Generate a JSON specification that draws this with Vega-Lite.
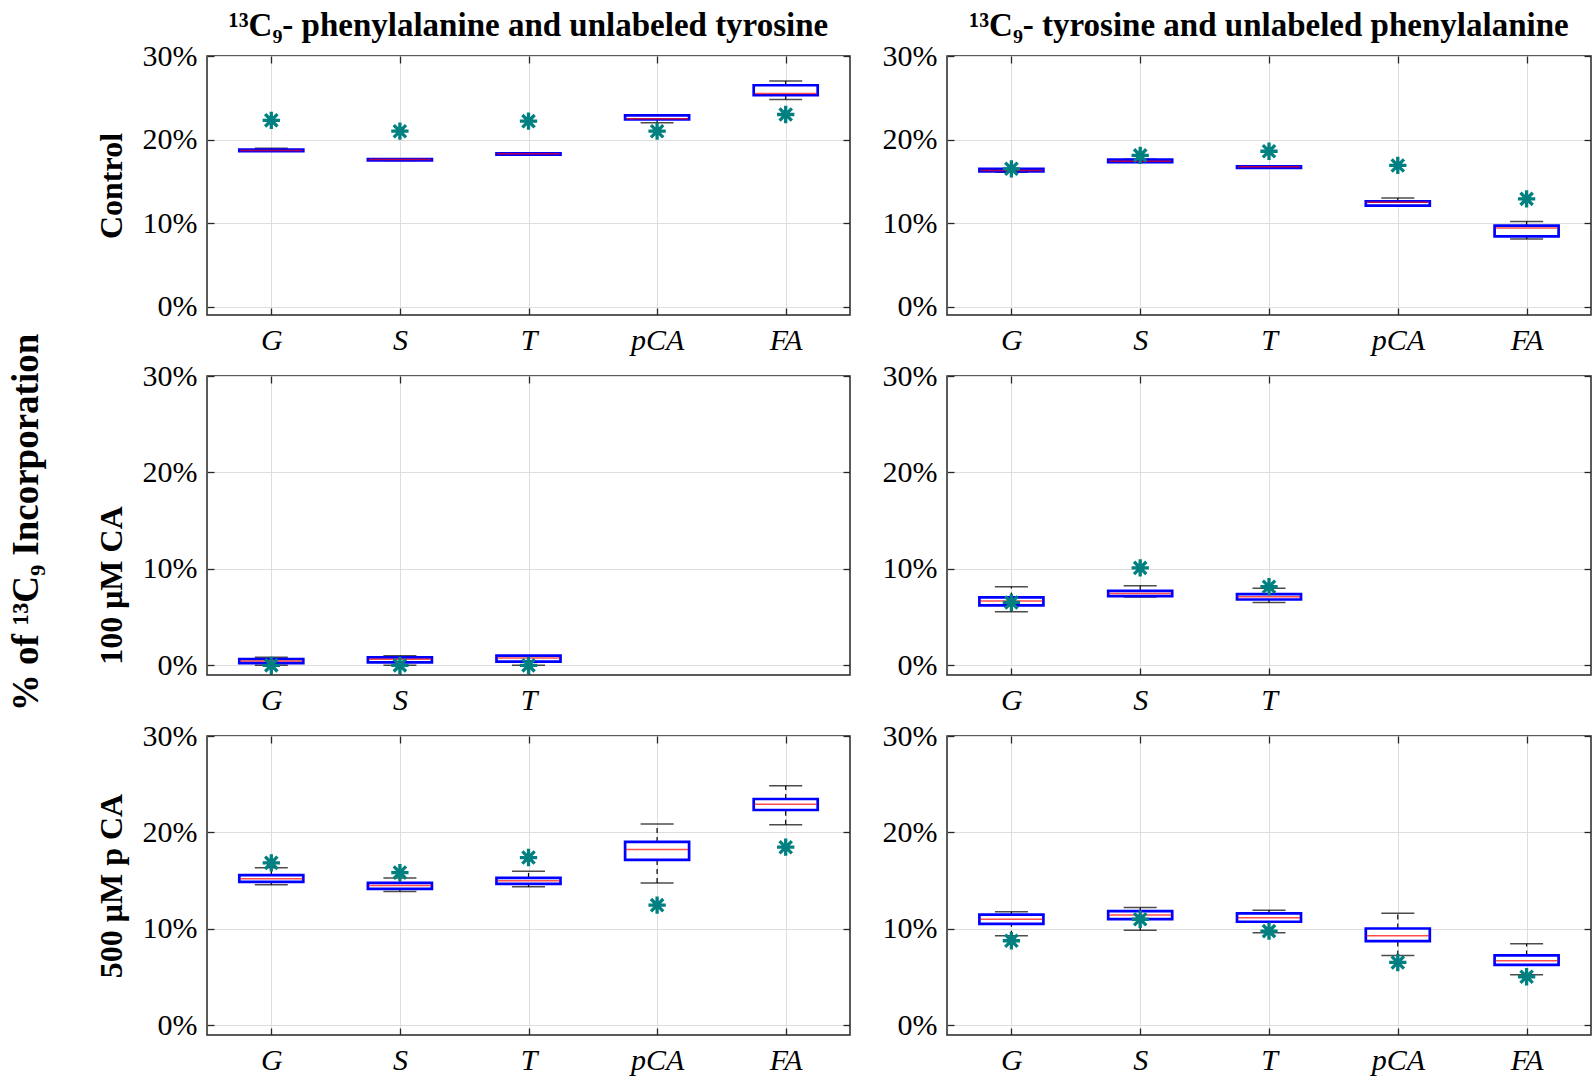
{
  "$schema": "https://vega.github.io/schema/vega-lite/v6.json",
  "background": "white",
  "padding": {"left": 8, "top": 9, "right": 0, "bottom": 0},
  "config": {
    "font": "Liberation Serif",
    "view": {"stroke": "#262626", "strokeWidth": 1.5},
    "axis": {
      "grid": true, "gridColor": "#dedede", "gridWidth": 1,
      "domain": false, "ticks": true, "tickColor": "#262626", "tickWidth": 1.3, "tickSize": -7,
      "labelFont": "Liberation Serif", "labelColor": "#000000",
      "titleFont": "Liberation Serif", "titleColor": "#000000"
    },
    "axisX": {"labelFontSize": 30, "labelFontStyle": "italic", "labelPadding": 17, "labelAngle": 0},
    "axisY": {"labelFontSize": 30, "labelPadding": 17, "titleFontSize": 32, "titleFontWeight": "bold", "titlePadding": 14},
    "title": {"font": "Liberation Serif", "color": "#000000", "fontWeight": "bold"}
  },
  "title": {"text": "% of ¹³C₉ Incorporation", "orient": "left", "anchor": "middle", "fontSize": 37, "fontWeight": "bold", "offset": 48, "dx": 20},
  "datasets": {
    "d": [
      {"row": "ctrl", "col": "Phe", "cat": "G", "lo": 18.6, "q1": 18.6, "med": 18.7, "q3": 18.8, "hi": 18.95, "star": 22.3},
      {"row": "ctrl", "col": "Phe", "cat": "S", "lo": 17.5, "q1": 17.5, "med": 17.6, "q3": 17.65, "hi": 17.7, "star": 21.0},
      {"row": "ctrl", "col": "Phe", "cat": "T", "lo": 18.2, "q1": 18.2, "med": 18.3, "q3": 18.35, "hi": 18.4, "star": 22.2},
      {"row": "ctrl", "col": "Phe", "cat": "pCA", "lo": 22.0, "q1": 22.4, "med": 22.5, "q3": 22.9, "hi": 22.9, "star": 21.0},
      {"row": "ctrl", "col": "Phe", "cat": "FA", "lo": 24.8, "q1": 25.3, "med": 25.5, "q3": 26.5, "hi": 27.0, "star": 23.0},
      {"row": "ctrl", "col": "Tyr", "cat": "G", "lo": 16.1, "q1": 16.2, "med": 16.3, "q3": 16.5, "hi": 16.5, "star": 16.5},
      {"row": "ctrl", "col": "Tyr", "cat": "S", "lo": 17.3, "q1": 17.3, "med": 17.4, "q3": 17.6, "hi": 17.65, "star": 18.1},
      {"row": "ctrl", "col": "Tyr", "cat": "T", "lo": 16.6, "q1": 16.6, "med": 16.75, "q3": 16.8, "hi": 16.8, "star": 18.6},
      {"row": "ctrl", "col": "Tyr", "cat": "pCA", "lo": 12.1, "q1": 12.1, "med": 12.5, "q3": 12.6, "hi": 13.0, "star": 16.9},
      {"row": "ctrl", "col": "Tyr", "cat": "FA", "lo": 8.1, "q1": 8.4, "med": 9.4, "q3": 9.7, "hi": 10.2, "star": 12.9},
      {"row": "ca", "col": "Phe", "cat": "G", "lo": 0.0, "q1": 0.24, "med": 0.45, "q3": 0.66, "hi": 0.83, "star": 0.0},
      {"row": "ca", "col": "Phe", "cat": "S", "lo": 0.0, "q1": 0.31, "med": 0.62, "q3": 0.83, "hi": 1.0, "star": 0.0},
      {"row": "ca", "col": "Phe", "cat": "T", "lo": 0.0, "q1": 0.38, "med": 0.76, "q3": 1.0, "hi": 1.0, "star": 0.0},
      {"row": "ca", "col": "Tyr", "cat": "G", "lo": 5.56, "q1": 6.21, "med": 6.66, "q3": 7.04, "hi": 8.15, "star": 6.52},
      {"row": "ca", "col": "Tyr", "cat": "S", "lo": 7.08, "q1": 7.18, "med": 7.46, "q3": 7.73, "hi": 8.25, "star": 10.1},
      {"row": "ca", "col": "Tyr", "cat": "T", "lo": 6.52, "q1": 6.83, "med": 7.11, "q3": 7.39, "hi": 8.0, "star": 8.15},
      {"row": "pca", "col": "Phe", "cat": "G", "lo": 14.57, "q1": 14.88, "med": 15.19, "q3": 15.57, "hi": 16.33, "star": 16.85},
      {"row": "pca", "col": "Phe", "cat": "S", "lo": 13.88, "q1": 14.15, "med": 14.5, "q3": 14.77, "hi": 15.29, "star": 15.84},
      {"row": "pca", "col": "Phe", "cat": "T", "lo": 14.36, "q1": 14.67, "med": 14.98, "q3": 15.29, "hi": 15.98, "star": 17.4},
      {"row": "pca", "col": "Phe", "cat": "pCA", "lo": 14.77, "q1": 17.16, "med": 18.23, "q3": 19.02, "hi": 20.88, "star": 12.46},
      {"row": "pca", "col": "Phe", "cat": "FA", "lo": 20.81, "q1": 22.33, "med": 22.92, "q3": 23.47, "hi": 24.85, "star": 18.47},
      {"row": "pca", "col": "Tyr", "cat": "G", "lo": 9.29, "q1": 10.53, "med": 11.01, "q3": 11.49, "hi": 11.77, "star": 8.77},
      {"row": "pca", "col": "Tyr", "cat": "S", "lo": 9.87, "q1": 11.01, "med": 11.43, "q3": 11.84, "hi": 12.22, "star": 11.0},
      {"row": "pca", "col": "Tyr", "cat": "T", "lo": 9.6, "q1": 10.74, "med": 11.15, "q3": 11.6, "hi": 11.94, "star": 9.77},
      {"row": "pca", "col": "Tyr", "cat": "pCA", "lo": 7.25, "q1": 8.73, "med": 9.29, "q3": 10.04, "hi": 11.63, "star": 6.52},
      {"row": "pca", "col": "Tyr", "cat": "FA", "lo": 5.25, "q1": 6.28, "med": 6.7, "q3": 7.25, "hi": 8.46, "star": 5.04}
    ]
  },
  "bounds": "flush",
  "columns": 2,
  "spacing": {"row": 61, "column": 97},
  "concat": [
    {
      "width": 643, "height": 259,
      "title": {"text": "¹³C₉- phenylalanine and unlabeled tyrosine", "fontSize": 33, "offset": -2},
      "data": {"name": "d"},
      "transform": [{"filter": "datum.row === 'ctrl' && datum.col === 'Phe'"}],
      "resolve": {"axis": {"x": "independent", "y": "independent"}},
      "layer": [
        {"mark": {"type": "rule", "color": "black", "strokeDash": [5, 4], "strokeWidth": 1.2},
         "encoding": {
           "x": {"field": "cat", "type": "nominal", "scale": {"type": "point", "domain": ["G", "S", "T", "pCA", "FA"], "padding": 0.5}, "axis": {"orient": "bottom", "title": null}},
           "y": {"field": "lo", "type": "quantitative", "scale": {"domain": [-1, 30], "nice": false, "zero": false}, "axis": {"orient": "left", "values": [0, 10, 20, 30], "labelExpr": "datum.value + '%'", "title": "Control"}},
           "y2": {"field": "q1"}}},
        {"mark": {"type": "rule", "color": "black", "strokeDash": [5, 4], "strokeWidth": 1.2},
         "encoding": {
           "x": {"field": "cat", "type": "nominal", "axis": {"orient": "top", "title": null, "labels": false, "grid": false}},
           "y": {"field": "q3", "type": "quantitative", "axis": {"orient": "right", "values": [0, 10, 20, 30], "labels": false, "grid": false, "title": null}},
           "y2": {"field": "hi"}}},
        {"mark": {"type": "tick", "color": "black", "size": 33, "thickness": 1.5},
         "encoding": {"x": {"field": "cat", "type": "nominal", "axis": null}, "y": {"field": "lo", "type": "quantitative", "axis": null}}},
        {"mark": {"type": "tick", "color": "black", "size": 33, "thickness": 1.5},
         "encoding": {"x": {"field": "cat", "type": "nominal", "axis": null}, "y": {"field": "hi", "type": "quantitative", "axis": null}}},
        {"mark": {"type": "bar", "width": 64, "fill": "white", "stroke": "#0000FF", "strokeWidth": 2.7},
         "encoding": {"x": {"field": "cat", "type": "nominal", "axis": null}, "y": {"field": "q1", "type": "quantitative", "axis": null}, "y2": {"field": "q3"}}},
        {"mark": {"type": "tick", "color": "#FF0000", "size": 62, "thickness": 1.5},
         "encoding": {"x": {"field": "cat", "type": "nominal", "axis": null}, "y": {"field": "med", "type": "quantitative", "axis": null}}},
        {"mark": {"type": "point", "shape": "M0,-1L0,1M-1,0L1,0M-0.71,-0.71L0.71,0.71M-0.71,0.71L0.71,-0.71", "filled": false, "stroke": "#008080", "strokeWidth": 3.3, "size": 300, "opacity": 1},
         "encoding": {"x": {"field": "cat", "type": "nominal", "axis": null}, "y": {"field": "star", "type": "quantitative", "axis": null}}}
      ]
    },
    {
      "width": 644, "height": 259,
      "title": {"text": "¹³C₉- tyrosine and unlabeled phenylalanine", "fontSize": 33, "offset": -2},
      "data": {"name": "d"},
      "transform": [{"filter": "datum.row === 'ctrl' && datum.col === 'Tyr'"}],
      "resolve": {"axis": {"x": "independent", "y": "independent"}},
      "layer": [
        {"mark": {"type": "rule", "color": "black", "strokeDash": [5, 4], "strokeWidth": 1.2},
         "encoding": {
           "x": {"field": "cat", "type": "nominal", "scale": {"type": "point", "domain": ["G", "S", "T", "pCA", "FA"], "padding": 0.5}, "axis": {"orient": "bottom", "title": null}},
           "y": {"field": "lo", "type": "quantitative", "scale": {"domain": [-1, 30], "nice": false, "zero": false}, "axis": {"orient": "left", "values": [0, 10, 20, 30], "labelExpr": "datum.value + '%'", "title": null}},
           "y2": {"field": "q1"}}},
        {"mark": {"type": "rule", "color": "black", "strokeDash": [5, 4], "strokeWidth": 1.2},
         "encoding": {
           "x": {"field": "cat", "type": "nominal", "axis": {"orient": "top", "title": null, "labels": false, "grid": false}},
           "y": {"field": "q3", "type": "quantitative", "axis": {"orient": "right", "values": [0, 10, 20, 30], "labels": false, "grid": false, "title": null}},
           "y2": {"field": "hi"}}},
        {"mark": {"type": "tick", "color": "black", "size": 33, "thickness": 1.5},
         "encoding": {"x": {"field": "cat", "type": "nominal", "axis": null}, "y": {"field": "lo", "type": "quantitative", "axis": null}}},
        {"mark": {"type": "tick", "color": "black", "size": 33, "thickness": 1.5},
         "encoding": {"x": {"field": "cat", "type": "nominal", "axis": null}, "y": {"field": "hi", "type": "quantitative", "axis": null}}},
        {"mark": {"type": "bar", "width": 64, "fill": "white", "stroke": "#0000FF", "strokeWidth": 2.7},
         "encoding": {"x": {"field": "cat", "type": "nominal", "axis": null}, "y": {"field": "q1", "type": "quantitative", "axis": null}, "y2": {"field": "q3"}}},
        {"mark": {"type": "tick", "color": "#FF0000", "size": 62, "thickness": 1.5},
         "encoding": {"x": {"field": "cat", "type": "nominal", "axis": null}, "y": {"field": "med", "type": "quantitative", "axis": null}}},
        {"mark": {"type": "point", "shape": "M0,-1L0,1M-1,0L1,0M-0.71,-0.71L0.71,0.71M-0.71,0.71L0.71,-0.71", "filled": false, "stroke": "#008080", "strokeWidth": 3.3, "size": 300, "opacity": 1},
         "encoding": {"x": {"field": "cat", "type": "nominal", "axis": null}, "y": {"field": "star", "type": "quantitative", "axis": null}}}
      ]
    },
    {
      "width": 643, "height": 299,
      "data": {"name": "d"},
      "transform": [{"filter": "datum.row === 'ca' && datum.col === 'Phe'"}],
      "resolve": {"axis": {"x": "independent", "y": "independent"}},
      "layer": [
        {"mark": {"type": "rule", "color": "black", "strokeDash": [5, 4], "strokeWidth": 1.2},
         "encoding": {
           "x": {"field": "cat", "type": "nominal", "scale": {"type": "point", "domain": ["G", "S", "T", "pCA", "FA"], "padding": 0.5}, "axis": {"orient": "bottom", "title": null, "values": ["G", "S", "T"]}},
           "y": {"field": "lo", "type": "quantitative", "scale": {"domain": [-1, 30], "nice": false, "zero": false}, "axis": {"orient": "left", "values": [0, 10, 20, 30], "labelExpr": "datum.value + '%'", "title": "100 μM CA", "titleY": 209}},
           "y2": {"field": "q1"}}},
        {"mark": {"type": "rule", "color": "black", "strokeDash": [5, 4], "strokeWidth": 1.2},
         "encoding": {
           "x": {"field": "cat", "type": "nominal", "axis": {"orient": "top", "title": null, "labels": false, "grid": false, "values": ["G", "S", "T"]}},
           "y": {"field": "q3", "type": "quantitative", "axis": {"orient": "right", "values": [0, 10, 20, 30], "labels": false, "grid": false, "title": null}},
           "y2": {"field": "hi"}}},
        {"mark": {"type": "tick", "color": "black", "size": 33, "thickness": 1.5},
         "encoding": {"x": {"field": "cat", "type": "nominal", "axis": null}, "y": {"field": "lo", "type": "quantitative", "axis": null}}},
        {"mark": {"type": "tick", "color": "black", "size": 33, "thickness": 1.5},
         "encoding": {"x": {"field": "cat", "type": "nominal", "axis": null}, "y": {"field": "hi", "type": "quantitative", "axis": null}}},
        {"mark": {"type": "bar", "width": 64, "fill": "white", "stroke": "#0000FF", "strokeWidth": 2.7},
         "encoding": {"x": {"field": "cat", "type": "nominal", "axis": null}, "y": {"field": "q1", "type": "quantitative", "axis": null}, "y2": {"field": "q3"}}},
        {"mark": {"type": "tick", "color": "#FF0000", "size": 62, "thickness": 1.5},
         "encoding": {"x": {"field": "cat", "type": "nominal", "axis": null}, "y": {"field": "med", "type": "quantitative", "axis": null}}},
        {"mark": {"type": "point", "shape": "M0,-1L0,1M-1,0L1,0M-0.71,-0.71L0.71,0.71M-0.71,0.71L0.71,-0.71", "filled": false, "stroke": "#008080", "strokeWidth": 3.3, "size": 300, "opacity": 1},
         "encoding": {"x": {"field": "cat", "type": "nominal", "axis": null}, "y": {"field": "star", "type": "quantitative", "axis": null}}}
      ]
    },
    {
      "width": 644, "height": 299,
      "data": {"name": "d"},
      "transform": [{"filter": "datum.row === 'ca' && datum.col === 'Tyr'"}],
      "resolve": {"axis": {"x": "independent", "y": "independent"}},
      "layer": [
        {"mark": {"type": "rule", "color": "black", "strokeDash": [5, 4], "strokeWidth": 1.2},
         "encoding": {
           "x": {"field": "cat", "type": "nominal", "scale": {"type": "point", "domain": ["G", "S", "T", "pCA", "FA"], "padding": 0.5}, "axis": {"orient": "bottom", "title": null, "values": ["G", "S", "T"]}},
           "y": {"field": "lo", "type": "quantitative", "scale": {"domain": [-1, 30], "nice": false, "zero": false}, "axis": {"orient": "left", "values": [0, 10, 20, 30], "labelExpr": "datum.value + '%'", "title": null}},
           "y2": {"field": "q1"}}},
        {"mark": {"type": "rule", "color": "black", "strokeDash": [5, 4], "strokeWidth": 1.2},
         "encoding": {
           "x": {"field": "cat", "type": "nominal", "axis": {"orient": "top", "title": null, "labels": false, "grid": false, "values": ["G", "S", "T"]}},
           "y": {"field": "q3", "type": "quantitative", "axis": {"orient": "right", "values": [0, 10, 20, 30], "labels": false, "grid": false, "title": null}},
           "y2": {"field": "hi"}}},
        {"mark": {"type": "tick", "color": "black", "size": 33, "thickness": 1.5},
         "encoding": {"x": {"field": "cat", "type": "nominal", "axis": null}, "y": {"field": "lo", "type": "quantitative", "axis": null}}},
        {"mark": {"type": "tick", "color": "black", "size": 33, "thickness": 1.5},
         "encoding": {"x": {"field": "cat", "type": "nominal", "axis": null}, "y": {"field": "hi", "type": "quantitative", "axis": null}}},
        {"mark": {"type": "bar", "width": 64, "fill": "white", "stroke": "#0000FF", "strokeWidth": 2.7},
         "encoding": {"x": {"field": "cat", "type": "nominal", "axis": null}, "y": {"field": "q1", "type": "quantitative", "axis": null}, "y2": {"field": "q3"}}},
        {"mark": {"type": "tick", "color": "#FF0000", "size": 62, "thickness": 1.5},
         "encoding": {"x": {"field": "cat", "type": "nominal", "axis": null}, "y": {"field": "med", "type": "quantitative", "axis": null}}},
        {"mark": {"type": "point", "shape": "M0,-1L0,1M-1,0L1,0M-0.71,-0.71L0.71,0.71M-0.71,0.71L0.71,-0.71", "filled": false, "stroke": "#008080", "strokeWidth": 3.3, "size": 300, "opacity": 1},
         "encoding": {"x": {"field": "cat", "type": "nominal", "axis": null}, "y": {"field": "star", "type": "quantitative", "axis": null}}}
      ]
    },
    {
      "width": 643, "height": 299,
      "data": {"name": "d"},
      "transform": [{"filter": "datum.row === 'pca' && datum.col === 'Phe'"}],
      "resolve": {"axis": {"x": "independent", "y": "independent"}},
      "layer": [
        {"mark": {"type": "rule", "color": "black", "strokeDash": [5, 4], "strokeWidth": 1.2},
         "encoding": {
           "x": {"field": "cat", "type": "nominal", "scale": {"type": "point", "domain": ["G", "S", "T", "pCA", "FA"], "padding": 0.5}, "axis": {"orient": "bottom", "title": null}},
           "y": {"field": "lo", "type": "quantitative", "scale": {"domain": [-1, 30], "nice": false, "zero": false}, "axis": {"orient": "left", "values": [0, 10, 20, 30], "labelExpr": "datum.value + '%'", "title": "500 μM p CA"}},
           "y2": {"field": "q1"}}},
        {"mark": {"type": "rule", "color": "black", "strokeDash": [5, 4], "strokeWidth": 1.2},
         "encoding": {
           "x": {"field": "cat", "type": "nominal", "axis": {"orient": "top", "title": null, "labels": false, "grid": false}},
           "y": {"field": "q3", "type": "quantitative", "axis": {"orient": "right", "values": [0, 10, 20, 30], "labels": false, "grid": false, "title": null}},
           "y2": {"field": "hi"}}},
        {"mark": {"type": "tick", "color": "black", "size": 33, "thickness": 1.5},
         "encoding": {"x": {"field": "cat", "type": "nominal", "axis": null}, "y": {"field": "lo", "type": "quantitative", "axis": null}}},
        {"mark": {"type": "tick", "color": "black", "size": 33, "thickness": 1.5},
         "encoding": {"x": {"field": "cat", "type": "nominal", "axis": null}, "y": {"field": "hi", "type": "quantitative", "axis": null}}},
        {"mark": {"type": "bar", "width": 64, "fill": "white", "stroke": "#0000FF", "strokeWidth": 2.7},
         "encoding": {"x": {"field": "cat", "type": "nominal", "axis": null}, "y": {"field": "q1", "type": "quantitative", "axis": null}, "y2": {"field": "q3"}}},
        {"mark": {"type": "tick", "color": "#FF0000", "size": 62, "thickness": 1.5},
         "encoding": {"x": {"field": "cat", "type": "nominal", "axis": null}, "y": {"field": "med", "type": "quantitative", "axis": null}}},
        {"mark": {"type": "point", "shape": "M0,-1L0,1M-1,0L1,0M-0.71,-0.71L0.71,0.71M-0.71,0.71L0.71,-0.71", "filled": false, "stroke": "#008080", "strokeWidth": 3.3, "size": 300, "opacity": 1},
         "encoding": {"x": {"field": "cat", "type": "nominal", "axis": null}, "y": {"field": "star", "type": "quantitative", "axis": null}}}
      ]
    },
    {
      "width": 644, "height": 299,
      "data": {"name": "d"},
      "transform": [{"filter": "datum.row === 'pca' && datum.col === 'Tyr'"}],
      "resolve": {"axis": {"x": "independent", "y": "independent"}},
      "layer": [
        {"mark": {"type": "rule", "color": "black", "strokeDash": [5, 4], "strokeWidth": 1.2},
         "encoding": {
           "x": {"field": "cat", "type": "nominal", "scale": {"type": "point", "domain": ["G", "S", "T", "pCA", "FA"], "padding": 0.5}, "axis": {"orient": "bottom", "title": null}},
           "y": {"field": "lo", "type": "quantitative", "scale": {"domain": [-1, 30], "nice": false, "zero": false}, "axis": {"orient": "left", "values": [0, 10, 20, 30], "labelExpr": "datum.value + '%'", "title": null}},
           "y2": {"field": "q1"}}},
        {"mark": {"type": "rule", "color": "black", "strokeDash": [5, 4], "strokeWidth": 1.2},
         "encoding": {
           "x": {"field": "cat", "type": "nominal", "axis": {"orient": "top", "title": null, "labels": false, "grid": false}},
           "y": {"field": "q3", "type": "quantitative", "axis": {"orient": "right", "values": [0, 10, 20, 30], "labels": false, "grid": false, "title": null}},
           "y2": {"field": "hi"}}},
        {"mark": {"type": "tick", "color": "black", "size": 33, "thickness": 1.5},
         "encoding": {"x": {"field": "cat", "type": "nominal", "axis": null}, "y": {"field": "lo", "type": "quantitative", "axis": null}}},
        {"mark": {"type": "tick", "color": "black", "size": 33, "thickness": 1.5},
         "encoding": {"x": {"field": "cat", "type": "nominal", "axis": null}, "y": {"field": "hi", "type": "quantitative", "axis": null}}},
        {"mark": {"type": "bar", "width": 64, "fill": "white", "stroke": "#0000FF", "strokeWidth": 2.7},
         "encoding": {"x": {"field": "cat", "type": "nominal", "axis": null}, "y": {"field": "q1", "type": "quantitative", "axis": null}, "y2": {"field": "q3"}}},
        {"mark": {"type": "tick", "color": "#FF0000", "size": 62, "thickness": 1.5},
         "encoding": {"x": {"field": "cat", "type": "nominal", "axis": null}, "y": {"field": "med", "type": "quantitative", "axis": null}}},
        {"mark": {"type": "point", "shape": "M0,-1L0,1M-1,0L1,0M-0.71,-0.71L0.71,0.71M-0.71,0.71L0.71,-0.71", "filled": false, "stroke": "#008080", "strokeWidth": 3.3, "size": 300, "opacity": 1},
         "encoding": {"x": {"field": "cat", "type": "nominal", "axis": null}, "y": {"field": "star", "type": "quantitative", "axis": null}}}
      ]
    }
  ]
}
